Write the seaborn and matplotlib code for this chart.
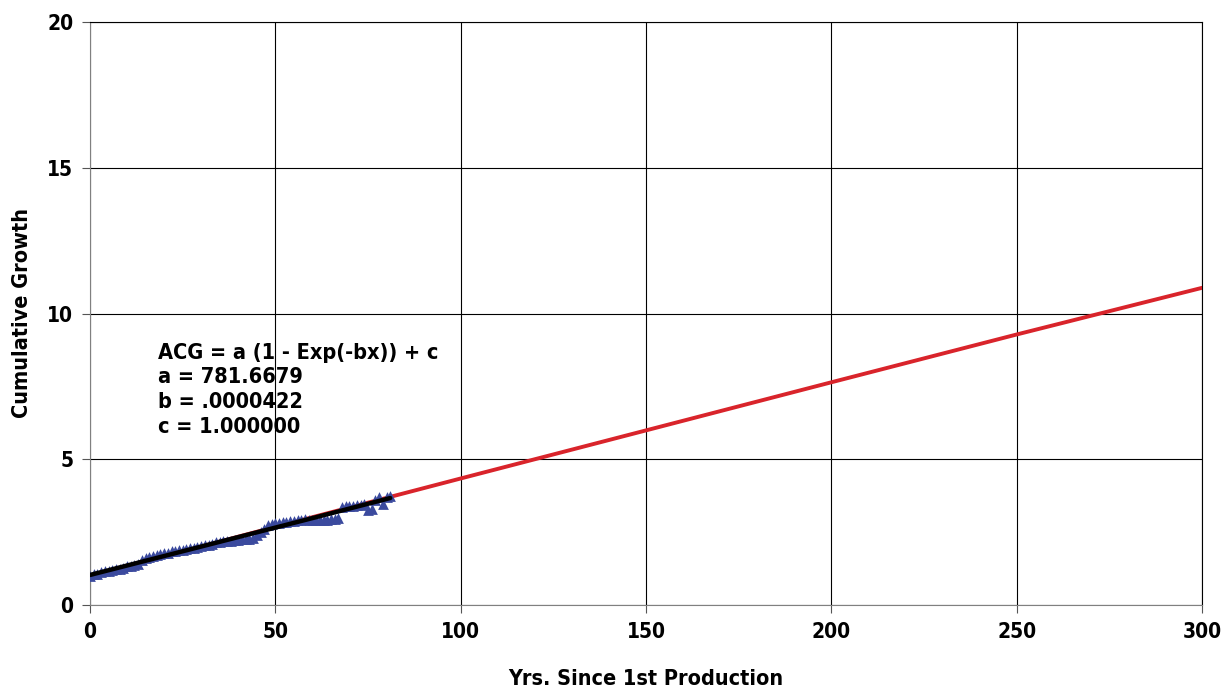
import matplotlib
matplotlib.use("Agg")
import matplotlib.pyplot as plt
import seaborn as sns
import pandas as pd

# observed data (years since 1st production, cumulative growth)
obs_years = list(range(0, 82))
obs_growth = [1.00, 1.05, 1.08, 1.12, 1.15, 1.17, 1.20, 1.22, 1.25, 1.28,
              1.33, 1.35, 1.36, 1.40, 1.55, 1.60, 1.65, 1.68, 1.72, 1.75,
              1.77, 1.80, 1.85, 1.85, 1.88, 1.90, 1.93, 1.95, 1.97, 2.00,
              2.02, 2.05, 2.07, 2.10, 2.15, 2.15, 2.18, 2.18, 2.20, 2.22,
              2.22, 2.25, 2.25, 2.28, 2.30, 2.40, 2.50, 2.60, 2.75, 2.78,
              2.82, 2.82, 2.85, 2.85, 2.87, 2.88, 2.90, 2.92, 2.95, 2.90,
              2.90, 2.92, 2.92, 2.93, 2.93, 2.95, 2.95, 3.00, 3.35, 3.38,
              3.40, 3.40, 3.42, 3.42, 3.45, 3.25, 3.30, 3.60, 3.72, 3.45,
              3.70, 3.75]

# fitted curve over data range (black)
fit_x = [0, 20, 40, 60, 81]
fit_y = [1.03, 1.68, 2.33, 2.98, 3.67]

# extrapolated curve (red)
ext_x = [0, 50, 100, 150, 200, 250, 300]
ext_y = [1.00, 2.68, 4.34, 5.99, 7.64, 9.28, 10.88]

x_ticks = [0, 50, 100, 150, 200, 250, 300]
y_ticks = [0, 5, 10, 15, 20]
annotation = ["ACG = a (1 - Exp(-bx)) + c", "a = 781.6679", "b = .0000422", "c = 1.000000"]

sns.set_theme(style="white")
plt.rcParams['font.family'] = ['DejaVu Sans']
plt.rcParams['font.stretch'] = 'condensed'
plt.rcParams['font.weight'] = 'bold'
plt.rcParams['text.color'] = 'black'
plt.rcParams['xtick.color'] = 'black'
plt.rcParams['ytick.color'] = 'black'
plt.rcParams['axes.labelcolor'] = 'black'

fig = plt.figure(figsize=(12.24, 6.93), dpi=100)
ax = fig.add_axes([90/1224, 1-605/693, (1202-90)/1224, (605-22)/693])

df_obs = pd.DataFrame({"x": obs_years, "y": obs_growth})
df_fit = pd.DataFrame({"x": fit_x, "y": fit_y})
df_ext = pd.DataFrame({"x": ext_x, "y": ext_y})

sns.lineplot(data=df_ext, x="x", y="y", color="#D9242B", linewidth=2.8, ax=ax, zorder=3)
sns.scatterplot(data=df_obs, x="x", y="y", marker="^", color="#3B4A9E", s=60,
                edgecolor="#3B4A9E", linewidth=0, ax=ax, zorder=4)
sns.lineplot(data=df_fit, x="x", y="y", color="black", linewidth=3.2, ax=ax, zorder=5)

ax.set_xlim(0, 300)
ax.set_ylim(0, 20)
ax.set_xticks(x_ticks)
ax.set_yticks(y_ticks)
ax.grid(True, color="black", linewidth=0.8)
ax.set_axisbelow(True)
for s in ax.spines.values():
    s.set_color("black")
    s.set_linewidth(0.8)
ax.spines['left'].set_color("#808080")
ax.spines['bottom'].set_color("#808080")
ax.tick_params(axis="both", direction="out", length=6, width=0.8, color="#555555",
               labelsize=15, pad=6, bottom=True, left=True, labelcolor="black")
for lab in ax.get_xticklabels() + ax.get_yticklabels():
    lab.set_fontweight("bold")
    lab.set_fontstretch("condensed")

ax.set_xlabel("Yrs. Since 1st Production", fontsize=15.5, fontweight="bold",
              fontstretch="condensed", labelpad=20)
ax.set_ylabel("Cumulative Growth", fontsize=15.5, fontweight="bold",
              fontstretch="condensed", labelpad=11)

ax.text(18.3, 9.0, "\n".join(annotation), fontsize=15.6, fontweight="bold",
        fontstretch="condensed", va="top", ha="left", linespacing=1.3)

fig.savefig("out.png", dpi=100)
